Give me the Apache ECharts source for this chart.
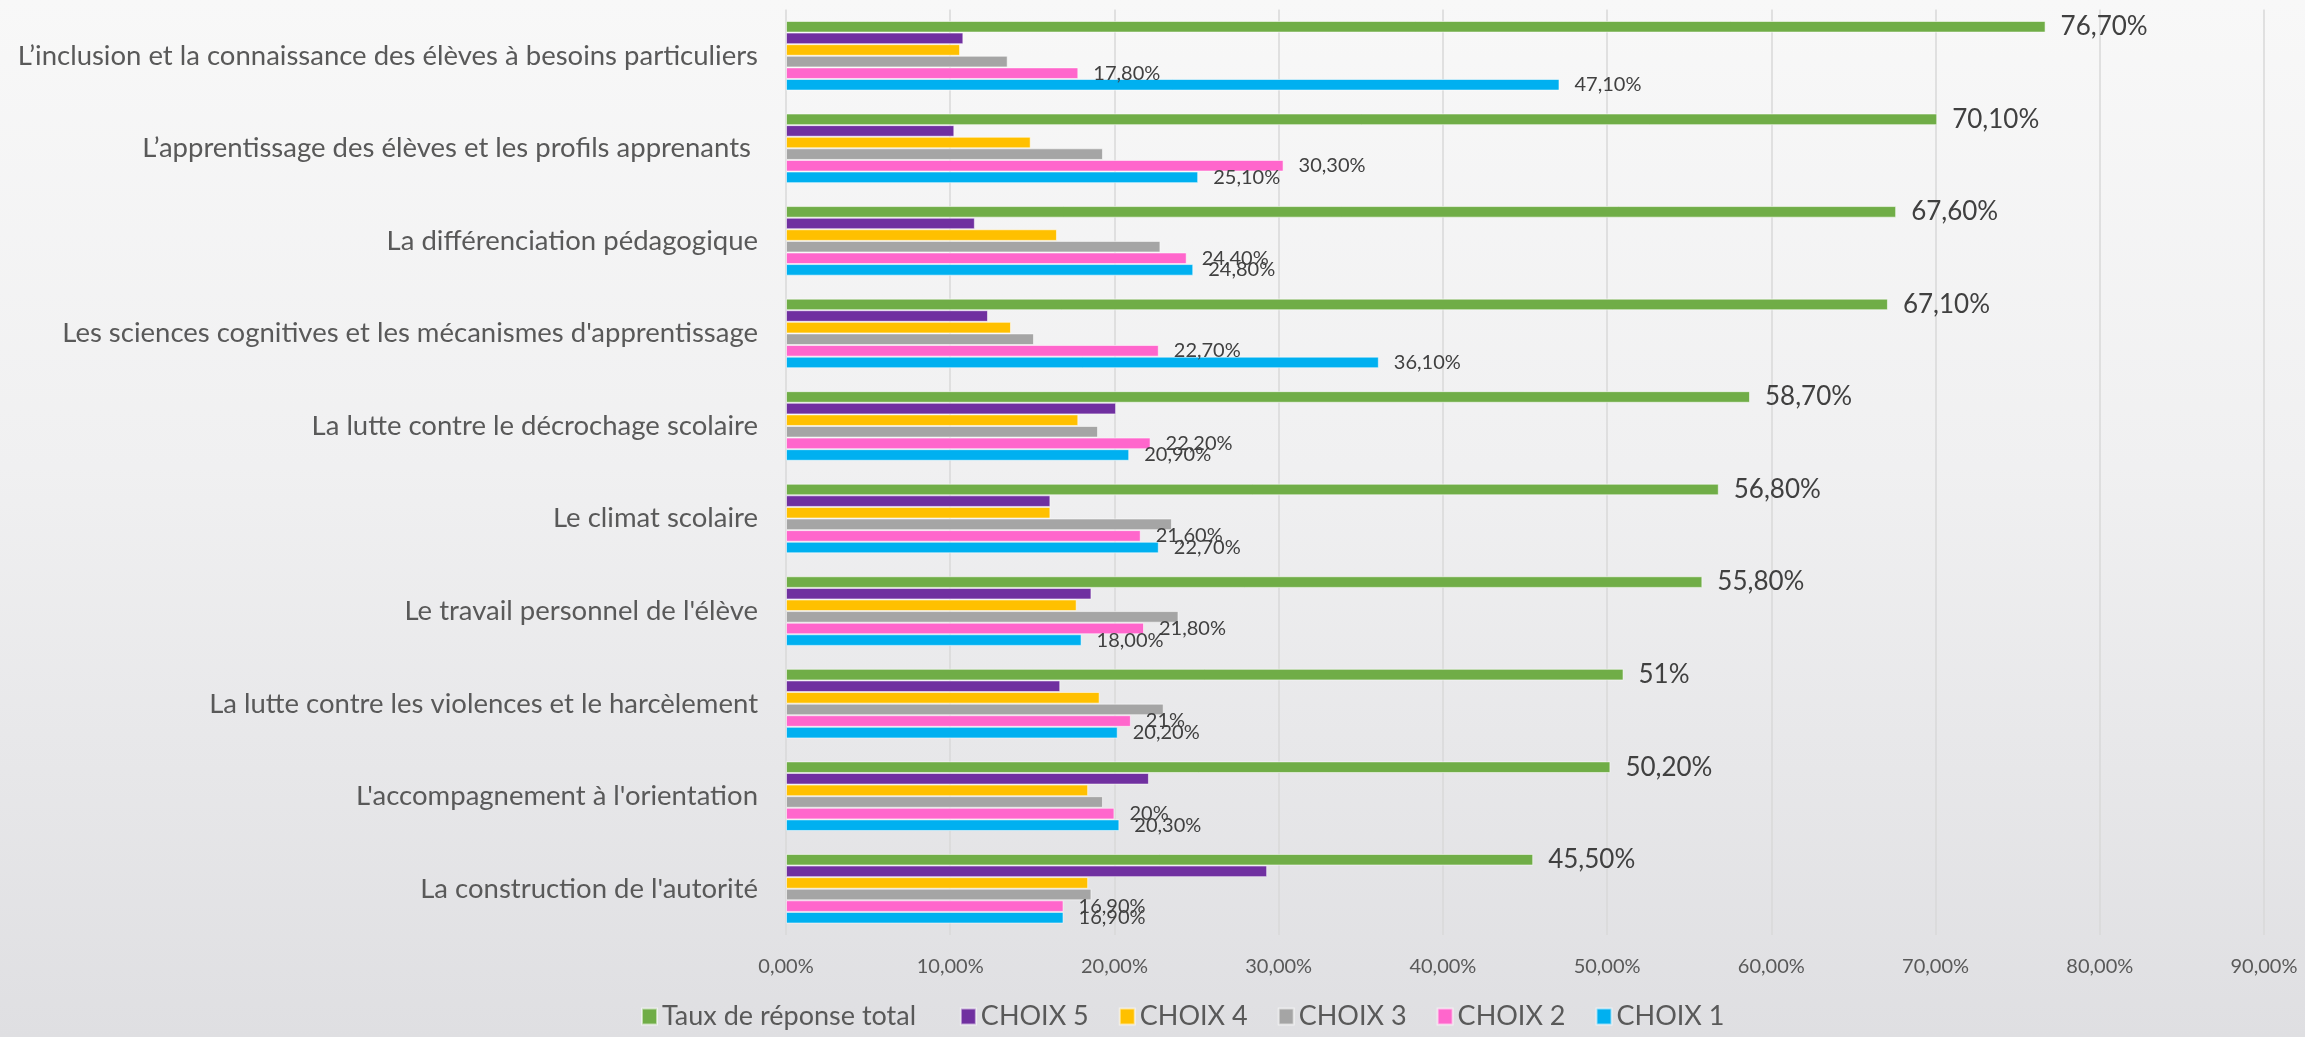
<!DOCTYPE html>
<html>
<head>
<meta charset="utf-8">
<style>
html,body{margin:0;padding:0;width:2305px;height:1037px;overflow:hidden;}
#c{width:2305px;height:1037px;background:linear-gradient(180deg,#f8f8f8 0%,#f0f0f1 45%,#dfdfe2 100%);}
</style>
<script src="https://cdn.jsdelivr.net/npm/echarts@6/dist/echarts.min.js"></script>
</head>
<body>
<div id="c"></div>
<script>
const categories = [
  "L\u2019inclusion et la connaissance des élèves à besoins particuliers",
  "L\u2019apprentissage des élèves et les profils apprenants ",
  "La différenciation pédagogique",
  "Les sciences cognitives et les mécanismes d'apprentissage",
  "La lutte contre le décrochage scolaire",
  "Le climat scolaire",
  "Le travail personnel de l'élève",
  "La lutte contre les violences et le harcèlement",
  "L'accompagnement à l'orientation",
  "La construction de l'autorité"
];
const tauxTotal = ['76.70','70.10','67.60','67.10','58.70','56.80','55.80','51','50.20','45.50'];
const choix5 = [10.8,10.25,11.5,12.3,20.1,16.1,18.6,16.7,22.1,29.3];
const choix4 = [10.6,14.9,16.5,13.7,17.8,16.1,17.7,19.1,18.4,18.4];
const choix3 = [13.5,19.3,22.8,15.1,19.0,23.5,23.9,23.0,19.3,18.6];
const choix2 = ['17.80','30.30','24.40','22.70','22.20','21.60','21.80','21','20','16.90'];
const choix1 = ['47.10','25.10','24.80','36.10','20.90','22.70','18.00','20.20','20.30','16.90'];
const xTicks = [0,10,20,30,40,50,60,70,80,90];

const FONT = 'Lato';
const TXT = '#404040';
function rawLabel(p){ return String(p.data).replace('.', ',') + '%'; }

function mk(name, data, color, label){
  return {
    name, type:'bar', data, barWidth:11.6, barGap:'0%',
    itemStyle:{color, borderColor:'rgba(255,255,255,0.55)', borderWidth:1},
    label: label ? Object.assign({show:true, position:'right', distance:15, formatter:rawLabel, color:TXT, fontFamily:FONT}, label) : {show:false},
    labelLayout: {hideOverlap:false},
    animation:false
  };
}

const chart = echarts.init(document.getElementById('c'), null, {renderer:'canvas'});
chart.setOption({
  animation:false,
  textStyle:{fontFamily:FONT},
  grid:{left:786, right:41, top:9.5, bottom:102, containLabel:false},
  legend:{
    bottom:2, left:636, itemWidth:15, itemHeight:16, itemGap:30,
    icon:'rect',
    textStyle:{fontSize:27, color:'#595959', fontFamily:FONT},
    formatter: n => n === 'Taux de réponse total' ? n + '  ' : n,
    data:['Taux de réponse total','CHOIX 5','CHOIX 4','CHOIX 3','CHOIX 2','CHOIX 1']
  },
  xAxis:{
    type:'value', min:xTicks[0], max:xTicks[xTicks.length-1], interval:10,
    axisLine:{show:false}, axisTick:{show:false},
    splitLine:{show:true, lineStyle:{color:'#d9d9d9', width:1.5}},
    axisLabel:{margin:22, fontSize:20, color:'#595959', fontFamily:FONT,
      formatter:v=>v.toFixed(2).replace('.', ',')+'%'}
  },
  yAxis:{
    type:'category', data:categories, inverse:true,
    axisLine:{show:false}, axisTick:{show:false},
    axisLabel:{margin:28, fontSize:27.5, color:'#595959', fontFamily:FONT}
  },
  series:[
    mk('Taux de réponse total', tauxTotal, '#70AD47', {fontSize:26, offset:[0,2]}),
    mk('CHOIX 5', choix5, '#7030A0', null),
    mk('CHOIX 4', choix4, '#FFC000', null),
    mk('CHOIX 3', choix3, '#A5A5A5', null),
    mk('CHOIX 2', choix2, '#FF66CC', {fontSize:20, offset:[0,3]}),
    mk('CHOIX 1', choix1, '#00B0F0', {fontSize:20, offset:[0,3]})
  ]
});
</script>
</body>
</html>
